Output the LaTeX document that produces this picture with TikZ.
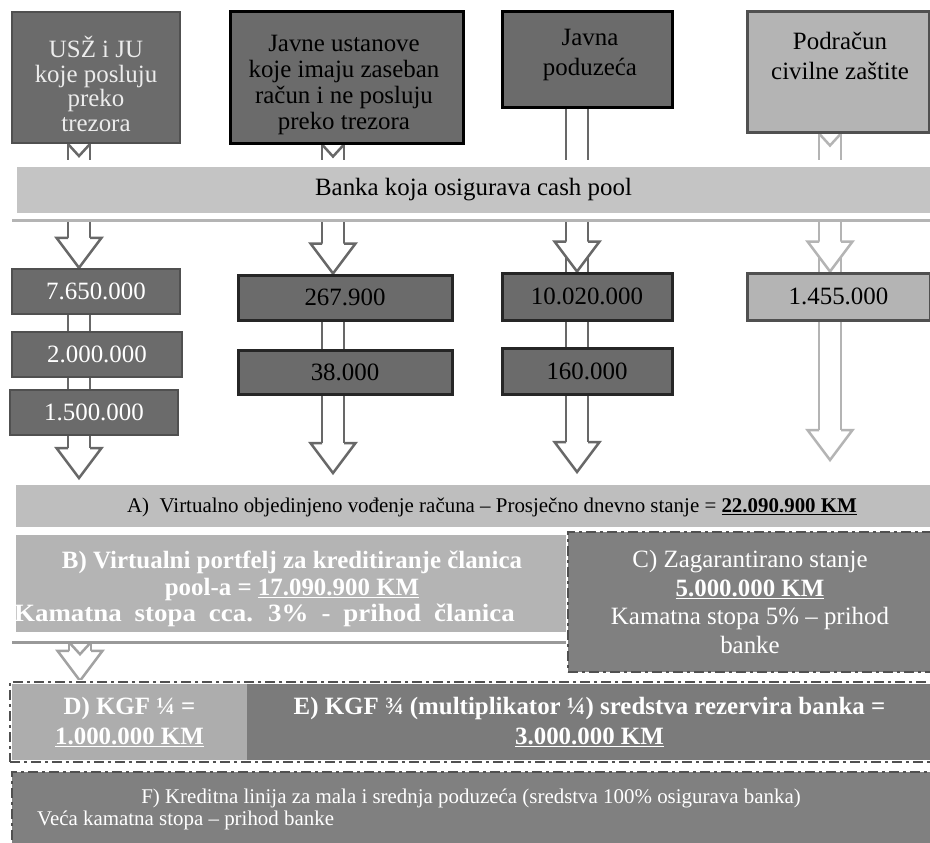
\documentclass[tikz,border=0pt]{standalone}
\usepackage{fontspec}
\setmainfont{Liberation Serif}
\usepackage{xcolor}
\usepackage{graphicx}
\usetikzlibrary{backgrounds,calc,positioning}
\definecolor{darkfill}{HTML}{6B6B6B}
\definecolor{lightfill}{HTML}{B4B4B4}
\definecolor{barfill}{HTML}{C4C4C4}
\definecolor{midfill}{HTML}{808080}
\definecolor{edgegray}{HTML}{505050}
\definecolor{arrowgray}{HTML}{686868}
\definecolor{arrowlight}{HTML}{B4B4B4}
\definecolor{paletext}{HTML}{ECECEC}
\tikzset{%
	topbox/.style   = {draw=black, rectangle, line width=3bp, fill=darkfill, inner sep=0pt},
	toptext/.style  = {align=center, inner sep=0pt, font=\fontsize{25}{24.5}\selectfont},
	numbox/.style   = {draw=black!85, rectangle, line width=3bp, fill=darkfill, inner sep=0pt, font=\fontsize{25}{25}\selectfont},
	numpale/.style  = {numbox, draw=edgegray, line width=2.5bp, text=white},
	barbox/.style   = {rectangle, fill=barfill, inner sep=0pt},
	dashedge/.style = {draw=edgegray, line width=2.5bp, dash pattern=on 10bp off 4bp on 3bp off 4bp, preaction={draw=white, solid, line width=3.5bp}},
	dashbox/.style  = {rectangle, dashedge, fill=midfill, inner sep=0pt},
	boldtext/.style = {align=center, inner sep=0pt, text=white, font=\fontsize{25}{26.5}\selectfont\bfseries},
	tiphead/.style  = {line width=2.5bp, fill=white, line join=miter},
}
\newcommand{\blockarrow}[3][arrowgray]{%
	\draw[draw=#1, line width=2.5bp] ($(#2)+(-11,0)$) -- ($(#3)+(-11,-30)$) ($(#2)+(11,0)$) -- ($(#3)+(11,-30)$);
	\filldraw[tiphead, draw=#1] ($(#3)+(-11,-30)$) -- ++(-11.5,0) -- (#3) -- ++(22.5,-30) -- ++(-11.5,0);
}
\newcommand{\stub}[3][arrowgray]{%
	\draw[draw=#1, line width=2.5bp] ($(#2)+(-11,0)$) -- ($(#3)+(-11,0)$) ($(#2)+(11,0)$) -- ($(#3)+(11,0)$);
}
\newcommand{\notch}[2][arrowgray]{%
	\draw[draw=#1, line width=2.5bp] ($(#2)+(-11,0)$) -- ($(#2)+(0,12)$) -- ($(#2)+(11,0)$);
}

\begin{document}
\begin{tikzpicture}[x=1bp, y=-1bp]
	\useasboundingbox (0,0) rectangle (930,843);
	
	% pool members
	\node[topbox, draw=edgegray, line width=2bp, minimum width=168bp, minimum height=131bp] (usz) at (96,77.5) {};
	\node[toptext, text=paletext] (usz-t) at (96,84) {USŽ i JU\\koje posluju\\preko\\trezora};
	\node[topbox, minimum width=233bp, minimum height=131bp] (javust) at (346.5,77.5) {};
	\node[toptext, font=\fontsize{25}{26}\selectfont] (javust-t) at (344,85) {Javne ustanove\\koje imaju zaseban\\račun i ne posluju\\preko trezora};
	\node[topbox, minimum width=170bp, minimum height=95bp] (javpod) at (587,59.5) {};
	\node[toptext, font=\fontsize{25}{29.5}\selectfont] (javpod-t) at (590,55) {Javna\\poduzeća};
	\node[topbox, draw=edgegray, fill=lightfill, minimum width=182bp, minimum height=120bp] (civil) at (838,72) {};
	\node[toptext, font=\fontsize{25}{30}\selectfont] (civil-t) at (840,56) {Podračun\\civilne zaštite};
	
	\node[barbox, minimum width=913bp, minimum height=46bp, font=\fontsize{25}{25}\selectfont] (bank) at (473.5,190) {Banka koja osigurava cash pool};
	\draw[lightfill, line width=3bp] (12,220) -- (930,220);
	
	% daily balances
	\node[numpale, minimum width=168bp, minimum height=45bp] (n1a) at (96,291.5) {7.650.000};
	\node[numpale, minimum width=170bp, minimum height=45bp] (n1b) at (97,354.5) {2.000.000};
	\node[numpale, minimum width=168bp, minimum height=45bp] (n1c) at (94,412.5) {1.500.000};
	\node[numbox, minimum width=214bp, minimum height=45bp] (n2a) at (345,297.5) {267.900};
	\node[numbox, minimum width=214bp, minimum height=44bp] (n2b) at (345,372) {38.000};
	\node[numbox, minimum width=170bp, minimum height=47bp] (n3a) at (587,296.5) {10.020.000};
	\node[numbox, minimum width=170bp, minimum height=46bp] (n3b) at (587,371) {160.000};
	\node[numbox, draw=edgegray, fill=lightfill, minimum width=183bp, minimum height=47bp] (n4a) at (838.5,296.5) {1.455.000};
	
	% pool
	\node[barbox, fill=barfill!97!black, minimum width=914bp, minimum height=42bp] (virt) at (473,506) {};
	\node[inner sep=0pt, font=\fontsize{21}{21}\selectfont] (virt-t) at (492,507) {A)~~Virtualno objedinjeno vođenje računa – Prosječno dnevno stanje = \textbf{\underline{22.090.900 KM}}};
	\node[barbox, fill=lightfill, minimum width=552bp, minimum height=97bp] (portfelj) at (292,583.5) {};
	\node[boldtext] (portfelj-t) at (292,589) {B) Virtualni portfelj za kreditiranje članica\\pool-a = \underline{17.090.900 KM}\\\scalebox{1.08}[1]{\spaceskip=12bp Kamatna stopa cca. 3\% - prihod članica}\hspace*{55bp}};
	\draw[lightfill!85!black, line width=3bp] (12,642) -- (568,642);
	\node[dashbox, minimum width=364bp, minimum height=140bp, align=center, text=white, font=\fontsize{25}{28.5}\selectfont] (garant) at (750,602) {C) Zagarantirano stanje\\\textbf{\underline{5.000.000 KM}}\\Kamatna stopa 5\% – prihod\\banke};
	
	\node[dashbox, fill=none, minimum width=922bp, minimum height=80bp] (kgf) at (471,722) {};
	\node[barbox, boldtext, fill=lightfill!96!black, minimum width=235bp, minimum height=76bp, font=\fontsize{25}{31}\selectfont\bfseries] (kgf-d) at (129.5,722) {D) KGF ¼ =\\\underline{1.000.000 KM}};
	\node[barbox, boldtext, fill=midfill!104, minimum width=685bp, minimum height=76bp, font=\fontsize{25}{31}\selectfont\bfseries] (kgf-e) at (589.5,722) {E) KGF ¾ (multiplikator ¼) sredstva rezervira banka =\\\underline{3.000.000 KM}};
	
	\node[dashbox, minimum width=920bp, minimum height=76bp] (kredit) at (472,810) {};
	\node[inner sep=0pt, text=white, font=\fontsize{21}{21}\selectfont] (kredit-a) at (471,798) {F) Kreditna linija za mala i srednja poduzeća (sredstva 100\% osigurava banka)};
	\node[inner sep=0pt, text=white, font=\fontsize{21}{21}\selectfont, anchor=west] (kredit-b) at (37,820) {Veća kamatna stopa – prihod banke};
	
	\begin{scope}[on background layer]
		\fill[white] (0,0) rectangle (930,843);
		\coordinate (c1) at (79,0);
		\coordinate (c2) at (333,0);
		\coordinate (c3) at (577,0);
		\coordinate (c4) at (830,0);
		\coordinate (cb) at (80,0);
		
		\foreach \col/\src/\clr in {c1/usz/arrowgray, c2/javust/arrowgray, c3/javpod/arrowgray, c4/civil/arrowlight} {
			\coordinate (u) at ($(\col |- bank.north)+(0,-7)$);
			\stub[\clr]{\col |- \src.south}{u}
		}
		\foreach \col/\src/\clr in {c1/usz/arrowgray, c2/javust/arrowgray, c4/civil/arrowlight} {\notch[\clr]{\col |- \src.south}}
		
		\foreach \col/\dst/\clr in {c1/n1a/arrowgray, c2/n2a/arrowgray, c3/n3a/arrowgray, c4/n4a/arrowlight} {
			\coordinate (t) at ($(\col |- bank.south)+(0,8)$);
			\blockarrow[\clr]{t}{\col |- \dst.north}
		}
		
		\coordinate (s3) at ($(c3 |- n3a.north)+(0,-15)$);
		\coordinate (s4) at ($(c4 |- n4a.north)+(0,-15)$);
		\coordinate (e1) at (79,478);
		\coordinate (e2) at (333,473);
		\coordinate (e3) at (577,472);
		\coordinate (e4) at (830,460);
		\blockarrow{c1 |- n1a}{e1}
		\blockarrow{c2 |- n2a}{e2}
		\blockarrow{s3}{e3}
		\blockarrow[arrowlight]{s4}{e4}
		
		\coordinate (sb) at ($(cb |- portfelj.south)+(0,10)$);
		\blockarrow[arrowlight!90!black]{sb}{cb |- kgf.north}
		\notch[arrowlight!90!black]{sb}
	\end{scope}
\end{tikzpicture}
\end{document}
